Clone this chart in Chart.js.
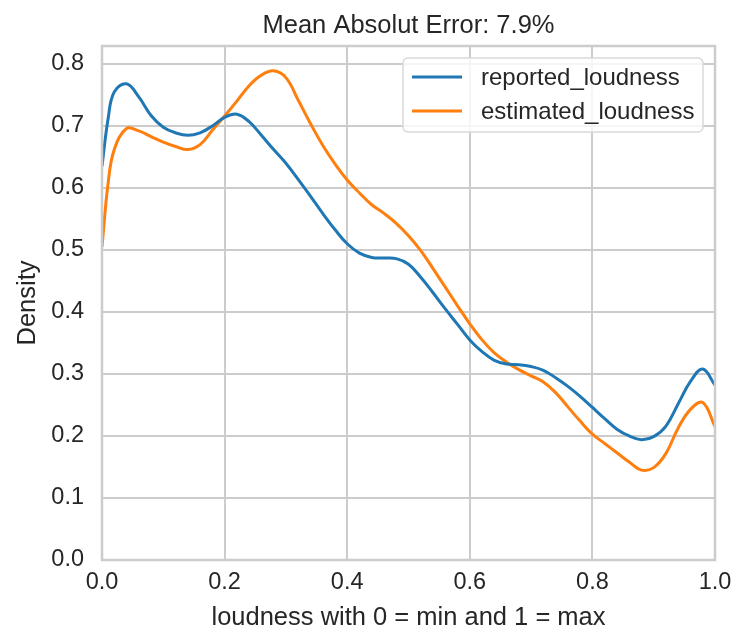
<!DOCTYPE html>
<html>
<head>
<meta charset="utf-8">
<script src="https://cdn.jsdelivr.net/npm/chart.js@4/dist/chart.umd.min.js"></script>
<style>
  html, body { margin: 0; padding: 0; background: #fff; }
  #wrap { width: 736px; height: 635px; }
</style>
</head>
<body>
<div id="wrap"><canvas id="chart" width="736" height="635"></canvas></div>
<script>
const TITLE = "Mean Absolut Error: 7.9%";
const X_LABEL = "loudness with 0 = min and 1 = max";
const Y_LABEL = "Density";
const SERIES_NAMES = ["reported_loudness", "estimated_loudness"];
const SERIES_COLORS = ["#1f77b4", "#ff7f0e"];

const loudness = [0, 0.01, 0.02, 0.04, 0.06, 0.08, 0.10, 0.12, 0.14, 0.16, 0.18, 0.20, 0.22, 0.24, 0.26, 0.28, 0.30, 0.32, 0.34, 0.36, 0.38, 0.40, 0.42, 0.44, 0.46, 0.48, 0.50, 0.52, 0.54, 0.56, 0.58, 0.60, 0.62, 0.64, 0.66, 0.68, 0.70, 0.72, 0.74, 0.76, 0.78, 0.80, 0.82, 0.84, 0.86, 0.88, 0.90, 0.92, 0.94, 0.96, 0.98, 1.0];
const reported = [0.635, 0.712, 0.755, 0.768, 0.747, 0.717, 0.698, 0.689, 0.685, 0.689, 0.700, 0.714, 0.719, 0.707, 0.685, 0.662, 0.640, 0.614, 0.587, 0.559, 0.533, 0.510, 0.495, 0.488, 0.487, 0.486, 0.477, 0.456, 0.431, 0.405, 0.380, 0.355, 0.336, 0.322, 0.316, 0.315, 0.312, 0.306, 0.294, 0.280, 0.264, 0.246, 0.228, 0.211, 0.200, 0.194, 0.199, 0.216, 0.252, 0.288, 0.308, 0.282];
const estimated = [0.505, 0.608, 0.662, 0.696, 0.692, 0.683, 0.674, 0.667, 0.662, 0.670, 0.693, 0.716, 0.740, 0.765, 0.782, 0.789, 0.778, 0.742, 0.704, 0.669, 0.639, 0.613, 0.592, 0.573, 0.559, 0.543, 0.523, 0.499, 0.470, 0.440, 0.410, 0.381, 0.355, 0.334, 0.319, 0.307, 0.297, 0.287, 0.270, 0.247, 0.224, 0.203, 0.188, 0.173, 0.158, 0.145, 0.149, 0.172, 0.213, 0.243, 0.254, 0.215];

const Y_MAX = 0.829;
const FONT = "'Liberation Sans', Arial, sans-serif";
const TEXT = "#262626";
const GRID = "#cccccc";

function points(xs, ys) {
  return xs.map((x, i) => ({ x: x, y: ys[i] }));
}

const frame = {
  id: "frame",
  afterDraw(chart) {
    const ctx = chart.ctx;
    const a = chart.chartArea;
    ctx.save();
    ctx.strokeStyle = GRID;
    ctx.lineWidth = 2.5;
    ctx.strokeRect(a.left, a.top, a.right - a.left, a.bottom - a.top);

    // title over the plot area
    ctx.fillStyle = TEXT;
    ctx.font = "25.5px " + FONT;
    ctx.textAlign = "center";
    ctx.textBaseline = "alphabetic";
    ctx.fillText(TITLE, (a.left + a.right) / 2, 33);

    // legend box in the upper right
    const bx = a.right - 312, by = a.top + 12, bw = 300, bh = 74;
    ctx.beginPath();
    ctx.roundRect(bx, by, bw, bh, 5);
    ctx.fillStyle = "rgba(255,255,255,0.8)";
    ctx.fill();
    ctx.strokeStyle = "#d9d9d9";
    ctx.lineWidth = 1.5;
    ctx.stroke();
    ctx.font = "24px " + FONT;
    ctx.textAlign = "left";
    ctx.textBaseline = "middle";
    chart.data.datasets.forEach((ds, i) => {
      const y = by + 19 + i * 34;
      ctx.strokeStyle = ds.borderColor;
      ctx.lineWidth = 3;
      ctx.beginPath();
      ctx.moveTo(bx + 9, y);
      ctx.lineTo(bx + 59, y);
      ctx.stroke();
      ctx.fillStyle = TEXT;
      ctx.fillText(ds.label, bx + 78, y + 1);
    });
    ctx.restore();
  }
};

new Chart(document.getElementById("chart"), {
  type: "line",
  data: {
    datasets: [
      {
        label: SERIES_NAMES[0],
        data: points(loudness, reported),
        borderColor: SERIES_COLORS[0],
        borderWidth: 3,
        pointRadius: 0,
        tension: 0.4,
        fill: false
      },
      {
        label: SERIES_NAMES[1],
        data: points(loudness, estimated),
        borderColor: SERIES_COLORS[1],
        borderWidth: 3,
        pointRadius: 0,
        tension: 0.4,
        fill: false
      }
    ]
  },
  options: {
    responsive: false,
    animation: false,
    layout: { padding: { left: 0, right: 21, top: 46, bottom: 0 } },
    plugins: {
      legend: { display: false },
      title: { display: false },
      tooltip: { enabled: false }
    },
    scales: {
      x: {
        type: "linear",
        min: 0,
        max: 1,
        afterFit: (s) => { s.height = 75; s.paddingLeft = 0; s.paddingRight = 0; },
        grid: { color: GRID, lineWidth: 2, drawTicks: false },
        border: { display: false },
        ticks: {
          stepSize: 0.2,
          padding: 8,
          color: TEXT,
          font: { family: FONT, size: 23.5 },
          callback: (v) => Number(v).toFixed(1)
        },
        title: {
          display: true,
          text: X_LABEL,
          color: TEXT,
          font: { family: FONT, size: 25.5 },
          padding: { top: 0, bottom: 2 }
        }
      },
      y: {
        min: 0,
        max: Y_MAX,
        afterFit: (s) => { s.width = 102; },
        grid: { color: GRID, lineWidth: 2, drawTicks: false },
        border: { display: false },
        ticks: {
          stepSize: 0.1,
          includeBounds: false,
          padding: 18,
          color: TEXT,
          font: { family: FONT, size: 23.5 },
          callback: (v) => Number(v).toFixed(1)
        },
        title: {
          display: true,
          text: Y_LABEL,
          color: TEXT,
          font: { family: FONT, size: 25.5 },
          padding: { top: 13, bottom: 0 }
        }
      }
    }
  },
  plugins: [frame]
});
</script>
</body>
</html>
